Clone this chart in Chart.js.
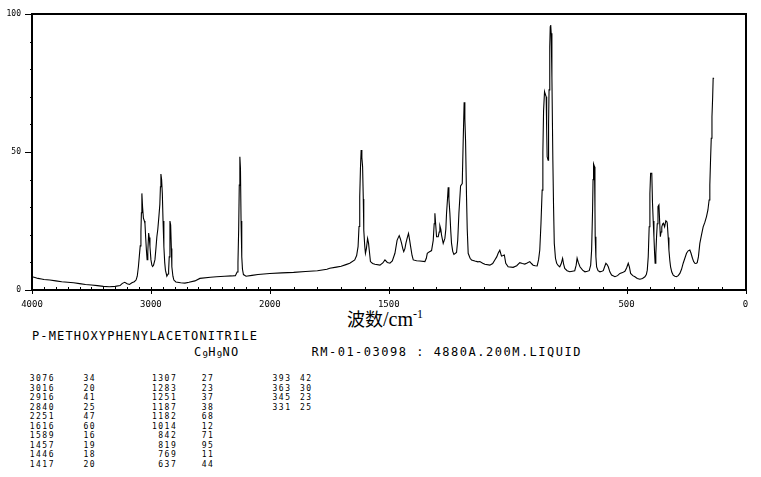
<!DOCTYPE html>
<html><head><meta charset="utf-8">
<script src="https://cdn.jsdelivr.net/npm/chart.js@4.4.1/dist/chart.umd.min.js"></script>
<style>
html,body{margin:0;padding:0;background:#fff;width:761px;height:477px;overflow:hidden;}
body{position:relative;}
#wrap{position:absolute;left:0;top:0;width:761px;height:320px;z-index:5;}
.t{position:absolute;color:#000;white-space:pre;font-family:"DejaVu Sans Mono",monospace;z-index:1;}
.big{font-size:12px;line-height:12px;letter-spacing:1.15px;}
.col{font-size:8px;line-height:9.5px;letter-spacing:1.5px;}
</style></head><body>
<div id="wrap"><canvas id="c" width="761" height="320"></canvas></div>
<div class="t" style="left:347px;top:303px;font-size:18px;line-height:22px;"><span style="font-family:'Noto Sans CJK SC';">波数</span><span style="font-family:'Liberation Serif',serif;font-size:20px;">/cm<sup style="font-size:12px;">-1</sup></span></div>
<div class="t big" style="left:32px;top:329.5px;">P-METHOXYPHENYLACETONITRILE</div>
<div class="t big" style="left:194px;top:346px;">C<sub style="font-size:9px;vertical-align:-2px;letter-spacing:0.5px;">9</sub>H<sub style="font-size:9px;vertical-align:-2px;letter-spacing:0.5px;">9</sub>NO</div>
<div class="t big" style="left:311.5px;top:346px;letter-spacing:1.5px;">RM-01-03098 : 4880A.200M.LIQUID</div>
<div id="table"></div>
<script>
// ---- spectrum data (wavenumber cm-1, relative intensity) ----
const wavenumbers = [4000,3975,3950,3920,3900,3850,3800,3750,3700,3650,3600,3550,3500,3450,3400,3350,3300,3260,3240,3220,3200,3180,3160,3140,3125,3115,3105,3098,3090,3084,3080,3076,3070,3063,3055,3050,3044,3038,3032,3026,3019,3014,3008,3000,2992,2986,2978,2966,2958,2950,2942,2933,2925,2920,2916,2910,2904,2898,2891,2884,2878,2866,2856,2851,2846,2840,2834,2828,2824,2815,2807,2790,2750,2714,2680,2630,2588,2500,2448,2380,2322,2290,2275,2268,2262,2257,2252,2247,2242,2236,2230,2222,2200,2150,2100,2050,2000,1950,1900,1850,1800,1760,1748,1720,1700,1680,1664,1643,1635,1629,1625,1622,1619,1616,1613,1610,1607,1605,1601,1598,1594,1589,1585,1582,1577,1568,1558,1537,1525,1516,1506,1495,1485,1474,1465,1461,1456,1451,1446,1441,1437,1432,1428,1422,1417,1412,1408,1402,1397,1383,1369,1348,1342,1338,1330,1320,1313,1309,1306,1302,1299,1292,1288,1285,1281,1278,1271,1264,1260,1257,1253,1250,1247,1243,1239,1236,1231,1226,1215,1210,1205,1198,1191,1187,1183,1180,1177,1173,1170,1166,1158,1152,1138,1125,1117,1105,1096,1075,1063,1054,1046,1040,1033,1026,1019,1014,1008,998,977,962,949,938,928,918,907,900,893,884,876,870,865,860,855,852,849,845,842,838,836,834,830,828,826,823,821,819,817,814,810,807,804,799,794,787,781,775,769,765,760,750,739,728,718,712,708,703,696,685,675,665,657,651,647,643,641,639,635,633,632,629,626,620,612,604,598,592,587,582,577,570,563,549,538,528,517,507,500,493,488,483,474,465,455,444,433,423,417,413,409,405,402,399,394,391,388,385,382,380,377,374,371,368,364,361,358,355,352,348,345,340,335,331,329,325,322,318,315,310,304,297,290,283,276,269,262,255,248,241,234,229,223,218,213,208,203,198,192,185,178,171,164,158,153,150,147,144,141,138,136,132];
const intensity = [4.8,4.5,4.2,4.0,3.8,3.6,3.3,3.0,2.8,2.6,2.3,2.0,1.8,1.6,1.3,1.2,1.3,1.6,2.4,2.8,2.3,2.0,2.6,3.0,3.6,5.0,8.5,12,16,21,28,35,30,26,25,24,19,14.5,11,14,20.6,19,15.7,11,9,8.5,9,11,15,19.3,22,26.6,31,37.4,42,40,35,25,15.7,10,7.2,5,5.8,7.2,12,25,23.5,15,8.4,5,3.6,2.9,2.6,2.5,2.8,3.3,4.2,4.6,4.8,5.0,5.1,5.2,6.5,10,22,38,48.3,44,25,12,7.5,5.6,5.0,5.3,5.6,5.8,6.0,6.2,6.4,6.7,7.0,7.5,7.9,8.3,8.6,9.2,9.7,10.9,12.5,15.7,23,33.8,44,50.7,48,44.7,33,21.7,16,13.3,15,18.7,17,14.5,10.3,9.6,9.3,9.0,9.8,10.9,10,9.7,10.5,13.3,18,18.8,19.7,18.5,16.9,15,13.9,15,16.9,19,20.5,18,15.7,12.5,10.9,10.6,10.5,10.3,11.5,13.3,13.8,14.3,18,24,27.8,23,19.3,19.3,21,23.3,22,19.9,16.9,18.7,22,27.8,33,37.2,33,27.8,21,16.9,14,12.9,13.6,18,27.8,37.7,38.6,54,68,62,54,33.8,22,13.3,11.5,10.9,10.5,10.2,10.3,9.7,9.3,9.0,9.6,10.9,12,13.3,14.4,12.3,12.5,12.7,9.7,8.4,8.2,8.8,9.9,9.6,9.4,9.8,10.3,9.6,9.0,8.8,8.7,11,14.5,24,36.2,50,65,71.9,71,70,58,48.3,47,60,72.5,88,95.4,96,93,77.3,47,30,16.9,11.5,9.7,8.8,8.4,9.5,11.5,9.5,7.8,7.0,6.6,6.8,7.0,9,11.5,10,8.4,7.2,6.6,6.8,7.0,9,14.5,29,40,45.7,44.7,30,19.3,12,8.4,7.0,6.6,6.8,7.0,8.5,9.7,9.2,8.4,6.5,5.4,4.8,5.2,6.0,6.3,6.8,8,9.7,8.3,6.0,5.2,4.8,4.2,3.9,4.2,4.8,5.6,7.2,12,22.9,35,42.3,42.3,31.4,25,19.3,13,9.7,13,19.3,24,30.2,30.8,25,19.3,21,22.9,24,24.2,22.9,25.1,24.8,24.2,19,14.5,10.5,8.4,6.5,5.4,5.0,4.8,5.2,6.0,7.5,9.7,11.5,13.3,14.2,14.5,13.3,11.5,10.3,9.7,9.6,9.9,12,16.9,20,22.9,24.5,26.6,29,32.6,38,47,55,62.8,70,76.7,76.7];

// ---- axis ticks ----
const xTickValues = [];
for (let v = 4000; v >= 0; v -= 100) xTickValues.push(v);
const xTickLabels = [4000, 3000, 2000, 1500, 500, 0];
const yTickLabels = [0, 50, 100];

// ---- peak table ----
const peakWn1 = ['3076','3016','2916','2840','2251','1616','1589','1457','1446','1417'];
const peakIn1 = ['34','20','41','25','47','60','16','19','18','20'];
const peakWn2 = ['1307','1283','1251','1187','1182','1014','842','819','769','637'];
const peakIn2 = ['27','23','37','38','68','12','71','95','11','44'];
const peakWn3 = ['393','363','345','331'];
const peakIn3 = ['42','30','23','25'];

function addCol(arr, x, align) {
  const d = document.createElement('div');
  d.className = 't col';
  d.style.top = '374px';
  if (align === 'right') { d.style.right = (761 - x - 1.5) + 'px'; d.style.textAlign = 'right'; }
  else d.style.left = x + 'px';
  d.textContent = arr.join('\n');
  document.getElementById('table').appendChild(d);
}
addCol(peakWn1, 29.7, 'left');
addCol(peakIn1, 83.5, 'left');
addCol(peakWn2, 175.7, 'right');
addCol(peakIn2, 201.7, 'left');
addCol(peakWn3, 290, 'right');
addCol(peakIn3, 300, 'left');

// ---- split wavenumber scale: 4000-2000 at half the scale of 2000-0 ----
const LS = Chart.LinearScale || Chart.registry.getScale('linear');
function toAxis(v) { return v >= 2000 ? (4000 - v) / 2 : 1000 + (2000 - v); }
function fromAxis(u) { return u <= 1000 ? 4000 - 2 * u : 2000 - (u - 1000); }
class SplitScale extends LS {
  getPixelForValue(v) { return super.getPixelForValue(toAxis(v)); }
  getValueForPixel(p) { return fromAxis(super.getValueForPixel(p)); }
}
SplitScale.id = 'split';
Chart.register(SplitScale);

const tickPlugin = {
  id: 'ticksFrame',
  afterDraw(chart) {
    const ctx = chart.ctx, a = chart.chartArea;
    const xs = chart.scales.x, ys = chart.scales.y;
    ctx.save();
    ctx.strokeStyle = '#000';
    ctx.lineWidth = 1;
    ctx.beginPath();
    xTickValues.forEach(v => {
      const px = Math.round(xs.getPixelForValue(v)) + 0.5;
      const major = xTickLabels.includes(v);
      ctx.moveTo(px, a.bottom - 3);
      ctx.lineTo(px, a.bottom + (major ? 4 : 0));
    });
    for (let v = 0; v <= 100; v += 10) {
      const py = Math.round(ys.getPixelForValue(v)) + 0.5;
      const len = yTickLabels.includes(v) ? 7 : 2;
      ctx.moveTo(a.left - len, py);
      ctx.lineTo(a.left, py);
    }
    ctx.stroke();
    ctx.lineWidth = 2;
    ctx.beginPath();
    ctx.moveTo(a.left, Math.round(a.top));
    ctx.lineTo(Math.round(a.right), Math.round(a.top));
    ctx.lineTo(Math.round(a.right), a.bottom);
    ctx.stroke();
    ctx.restore();
  }
};

new Chart(document.getElementById('c'), {
  type: 'line',
  data: {
    datasets: [{
      data: wavenumbers.map((v, i) => ({ x: v, y: intensity[i] })),
      borderColor: '#000',
      borderWidth: 1.1,
      pointRadius: 0,
      tension: 0,
      fill: false
    }]
  },
  options: {
    responsive: false,
    animation: false,
    layout: { padding: { left: 0, top: 14, right: 15.5, bottom: 0 } },
    plugins: { legend: { display: false }, tooltip: { enabled: false } },
    scales: {
      x: {
        type: 'split',
        min: 0, max: 3000,
        grid: { display: false },
        border: { display: true, color: '#000', width: 2 },
        ticks: {
          autoSkip: false, maxRotation: 0, minRotation: 0, padding: 1,
          color: '#000', font: { family: 'DejaVu Sans Mono', size: 9 },
          callback: (v) => xTickLabels.includes(v) ? String(v) : ''
        },
        afterBuildTicks: (s) => { s.ticks = xTickValues.map(v => ({ value: v })); },
        afterFit: (s) => { s.height = 30; }
      },
      y: {
        min: 0, max: 100,
        grid: { display: false },
        border: { display: true, color: '#000', width: 2 },
        ticks: {
          stepSize: 10, autoSkip: false, padding: 3,
          color: '#000', font: { family: 'DejaVu Sans Mono', size: 8 },
          callback: (v) => yTickLabels.includes(v) ? String(v) : ''
        },
        afterFit: (s) => { s.width = 32; }
      }
    }
  },
  plugins: [tickPlugin]
});
</script>
</body></html>
